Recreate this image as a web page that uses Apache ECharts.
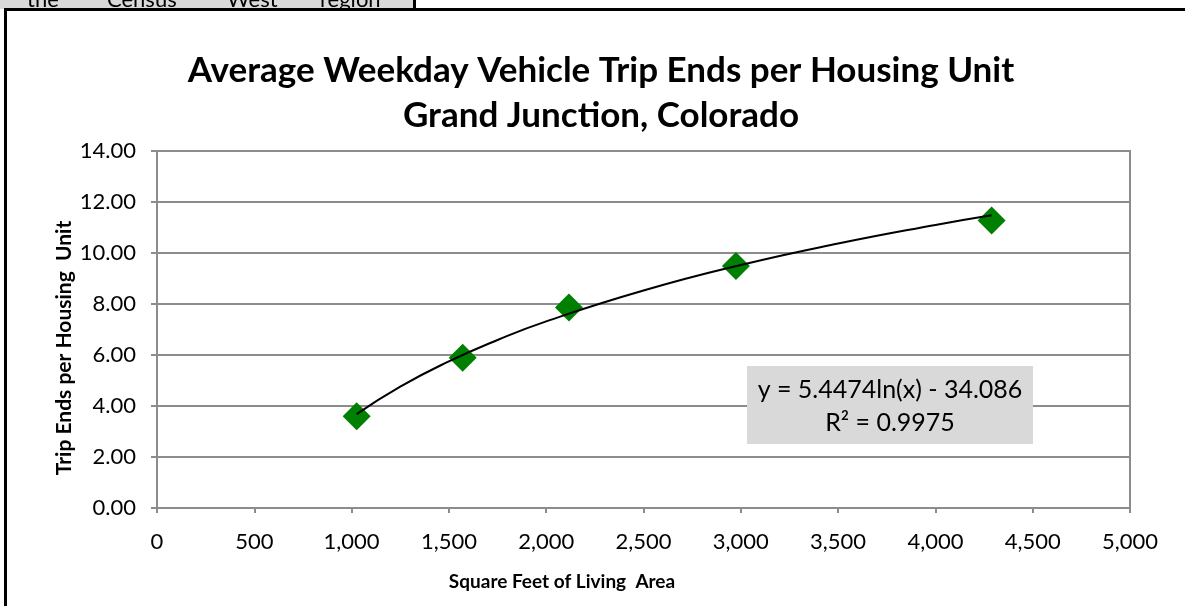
<!DOCTYPE html>
<html>
<head>
<meta charset="utf-8">
<title>Average Weekday Vehicle Trip Ends per Housing Unit</title>
<script src="https://cdn.jsdelivr.net/npm/echarts@6/dist/echarts.min.js"></script>
<style>
  html, body { margin: 0; padding: 0; background: #fff; }
  #chart { width: 1185px; height: 606px; }
</style>
</head>
<body>
<div id="chart"></div>
<script>
// measured points (square feet, trip ends)
const sqFeet = [1026, 1571, 2117, 2975, 4289];
const tripEnds = [3.60, 5.89, 7.86, 9.49, 11.27];

// log trendline
const trendX = [1026, 1250, 1500, 1750, 2000, 2500, 3000, 3500, 4000, 4289];
const trendY = [3.68, 4.76, 5.75, 6.59, 7.32, 8.53, 9.53, 10.37, 11.10, 11.48];

const yTicks = [0, 2, 4, 6, 8, 10, 12, 14];
const xTicks = [0, 500, 1000, 1500, 2000, 2500, 3000, 3500, 4000, 4500, 5000];

const equationText = 'y = 5.4474ln(x) - 34.086';
const r2Text = 'R² = 0.9975';
const headerWords = ['the', 'Census', 'West', 'region'];
const headerWordX = [27, 107, 227, 320];

const FONT = 'Lato, "Open Sans", sans-serif';
const GRAY = '#8c8c8c';

const myChart = echarts.init(document.getElementById('chart'));

// only the bottom of this row shows, the rest is cut off
const headerTexts = headerWords.map((w, i) => ({
  type: 'text',
  z: 1,
  style: { text: w, x: headerWordX[i], y: 11, fill: '#000', font: '22px ' + FONT, verticalAlign: 'bottom' }
}));

const option = {
  backgroundColor: '#fff',
  animation: false,
  title: {
    text: 'Average Weekday Vehicle Trip Ends per Housing Unit\nGrand Junction, Colorado',
    left: 596,
    top: 43,
    textAlign: 'center',
    textStyle: { fontFamily: FONT, fontWeight: 'bold', fontSize: 35, lineHeight: 45, color: '#000' }
  },
  grid: {
    left: 157, right: 55, top: 151, bottom: 98,
    show: true, borderColor: GRAY, borderWidth: 2, backgroundColor: 'transparent'
  },
  xAxis: {
    type: 'value',
    min: xTicks[0],
    max: xTicks[xTicks.length - 1],
    interval: 500,
    axisLine: { show: true, lineStyle: { color: GRAY, width: 2 } },
    axisTick: { show: true, length: 5, lineStyle: { color: GRAY, width: 2 } },
    splitLine: { show: false },
    axisLabel: {
      margin: 23,
      color: '#000', fontFamily: FONT, fontSize: 22,
      formatter: v => v.toLocaleString('en-US')
    }
  },
  yAxis: {
    type: 'value',
    min: yTicks[0],
    max: yTicks[yTicks.length - 1],
    interval: 2,
    axisLine: { show: true, lineStyle: { color: GRAY, width: 2 } },
    axisTick: { show: true, length: 6, lineStyle: { color: GRAY, width: 2 } },
    splitLine: { show: true, lineStyle: { color: GRAY, width: 2 } },
    axisLabel: {
      margin: 21,
      color: '#000', fontFamily: FONT, fontSize: 22,
      formatter: v => v.toFixed(2)
    }
  },
  series: [
    {
      type: 'scatter',
      name: 'Trip Ends',
      symbol: 'diamond',
      symbolSize: 28,
      itemStyle: { color: '#008000', opacity: 1 },
      z: 3,
      data: sqFeet.map((x, i) => [x, tripEnds[i]])
    },
    {
      type: 'line',
      name: 'Trend',
      smooth: true,
      showSymbol: false,
      lineStyle: { color: '#000', width: 2 },
      z: 4,
      data: trendX.map((x, i) => [x, trendY[i]])
    }
  ],
  graphic: [
    // clipped header cell at the top left
    { type: 'rect', z: 0, shape: { x: 0, y: 0, width: 415, height: 9 }, style: { fill: '#d9d9d9' } },
    ...headerTexts,
    { type: 'rect', z: 2, shape: { x: 413, y: 0, width: 3, height: 10 }, style: { fill: '#000' } },
    { type: 'rect', z: 2, shape: { x: 4, y: 8, width: 1181, height: 3 }, style: { fill: '#000' } },
    { type: 'rect', z: 2, shape: { x: 4, y: 8, width: 3, height: 598 }, style: { fill: '#000' } },
    // axis titles
    {
      type: 'text', z: 5, x: 64, y: 348, rotation: Math.PI / 2,
      style: { text: 'Trip Ends per Housing  Unit', fill: '#000', font: 'bold 21px ' + FONT, align: 'center', verticalAlign: 'middle' }
    },
    {
      type: 'text', z: 5, x: 562, y: 582,
      style: { text: 'Square Feet of Living  Area', fill: '#000', font: 'bold 19px ' + FONT, align: 'center', verticalAlign: 'middle' }
    },
    // trendline equation box
    { type: 'rect', z: 5, shape: { x: 747, y: 366, width: 286, height: 78 }, style: { fill: '#d9d9d9' } },
    {
      type: 'text', z: 6, x: 890, y: 390,
      style: { text: equationText, fill: '#000', font: '25px ' + FONT, align: 'center', verticalAlign: 'middle' }
    },
    {
      type: 'text', z: 6, x: 890, y: 423,
      style: { text: r2Text, fill: '#000', font: '25px ' + FONT, align: 'center', verticalAlign: 'middle' }
    }
  ]
};

myChart.setOption(option);
</script>
</body>
</html>
